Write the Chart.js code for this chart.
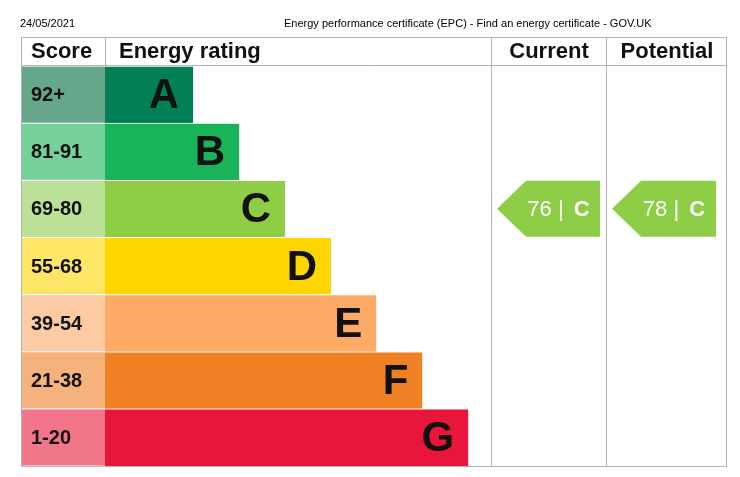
<!DOCTYPE html>
<html><head><meta charset="utf-8">
<script src="https://cdn.jsdelivr.net/npm/chart.js@4/dist/chart.umd.min.js"></script>
<style>html,body{margin:0;padding:0;background:#fff}#w{width:740px;height:477px}</style>
</head><body><div id="w"><canvas id="c"></canvas></div>
<script>
const letters = ['A','B','C','D','E','F','G'];
const scoreBands = ['92+','81-91','69-80','55-68','39-54','21-38','1-20'];
const barLengths = [14.2,21.6,29.0,36.4,43.7,51.1,58.5];
const barColors = ['#008054','#19b459','#8dce46','#ffd500','#fcaa65','#ef8023','#e9153b'];
const scoreColors = ['#66a68a','#75d09b','#bbe196','#ffe566','#fdcba3','#f5b27c','#f2768a'];
const current = {score:76, letter:'C'};
const potential = {score:78, letter:'C'};
const dateText = '24/05/2021';
const titleText = 'Energy performance certificate (EPC) - Find an energy certificate - GOV.UK';
const F = '"Liberation Sans", Arial, sans-serif';

const deco = {
  id:'deco',
  afterDatasetsDraw(chart){
    const ctx = chart.ctx, y = chart.scales.y, x = chart.scales.x;
    ctx.save();
    ctx.fillStyle='#000'; ctx.font='11px '+F; ctx.textBaseline='alphabetic';
    ctx.textAlign='left'; ctx.fillText(dateText,20,27); ctx.fillText(titleText,284,27);
    // score cells
    letters.forEach((l,i)=>{
      const top = y.getPixelForValue(i)-28.5, h=57.1;
      ctx.fillStyle=scoreColors[i]; ctx.fillRect(22,top+0.5,83,h-1);
      ctx.fillStyle='#111'; ctx.font='bold 20px '+F; ctx.textBaseline='middle'; ctx.textAlign='left';
      ctx.fillText(scoreBands[i],31,y.getPixelForValue(i)+1);
      const bm = chart.getDatasetMeta(0).data[i];
      ctx.font='bold 42px '+F; ctx.textAlign='right'; ctx.fillStyle='#111';
      ctx.fillText(l,bm.x-14,y.getPixelForValue(i)+2);
    });
    // grid
    ctx.strokeStyle='#b5b5b5'; ctx.lineWidth=1;
    ctx.strokeRect(21.5,37.5,705,429);
    ctx.beginPath();
    ctx.moveTo(21,65.5); ctx.lineTo(726,65.5);
    ctx.moveTo(105.5,37); ctx.lineTo(105.5,65);
    ctx.moveTo(491.5,37); ctx.lineTo(491.5,467);
    ctx.moveTo(606.5,37); ctx.lineTo(606.5,467);
    ctx.stroke();
    ctx.fillStyle='#111'; ctx.font='bold 22px '+F; ctx.textBaseline='middle';
    ctx.textAlign='left'; ctx.fillText('Score',31,52); ctx.fillText('Energy rating',119,52);
    ctx.textAlign='center'; ctx.fillText('Current',549,52); ctx.fillText('Potential',667,52);
    // arrows
    function arrow(r,x0,x1){
      const i = letters.indexOf(r.letter), cy=y.getPixelForValue(i), top=cy-28, bot=cy+28;
      ctx.fillStyle=barColors[i];
      ctx.beginPath(); ctx.moveTo(x0,cy); ctx.lineTo(x0+29,top); ctx.lineTo(x1,top); ctx.lineTo(x1,bot); ctx.lineTo(x0+29,bot); ctx.closePath(); ctx.fill();
      ctx.fillStyle='#fff'; ctx.textAlign='left'; ctx.textBaseline='middle';
      ctx.font='22px '+F; const t=r.score+' | '; const w=ctx.measureText(t).width;
      ctx.font='bold 22px '+F; const w2=ctx.measureText(r.letter).width;
      const sx=(x0+x1)/2+8-(w+w2)/2;
      ctx.font='22px '+F; ctx.fillText(t,sx,cy+1);
      ctx.font='bold 22px '+F; ctx.fillText(r.letter,sx+w+4,cy+1);
    }
    arrow(current,497,600); arrow(potential,612,716);
    ctx.restore();
  }
};

new Chart(document.getElementById('c'),{
  type:'bar',
  data:{labels:letters,datasets:[{data:barLengths,backgroundColor:barColors,borderColor:'#fff',borderWidth:{top:1,bottom:0,left:0,right:0},borderSkipped:false,categoryPercentage:1,barPercentage:1}]},
  options:{indexAxis:'y',responsive:true,maintainAspectRatio:false,animation:false,
    layout:{padding:{left:105,top:66,right:14,bottom:11}},
    plugins:{legend:{display:false},tooltip:{enabled:false}},
    scales:{x:{display:false,min:0,max:100},y:{display:false}}},
  plugins:[deco]
});
</script></body></html>
